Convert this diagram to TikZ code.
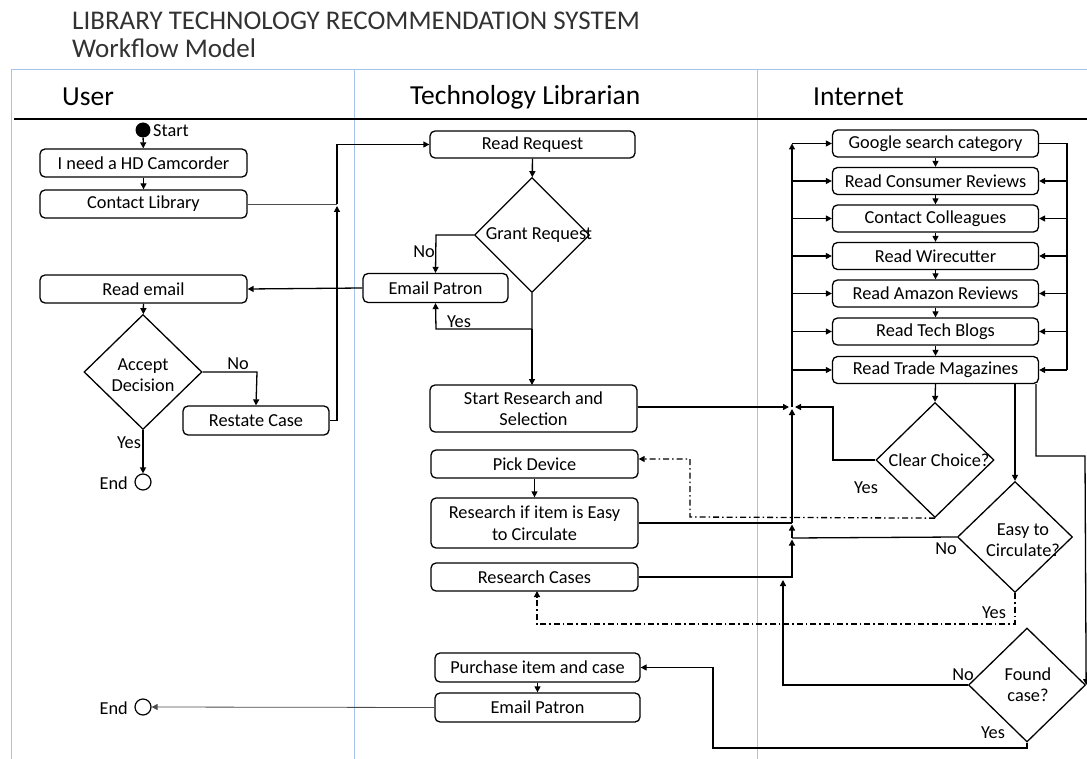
\documentclass[tikz,border=0pt]{standalone}
\usepackage{fontspec}
\setmainfont{Carlito}
\usetikzlibrary{arrows.meta,shapes.geometric}
\definecolor{lanec}{RGB}{165,195,235}
\definecolor{titlec}{RGB}{50,50,50}
\begin{document}
\begin{tikzpicture}[x=1pt,y=-1pt,
  box/.style={draw, rounded corners=5pt, line width=1.3pt, align=center, inner sep=0pt,
     font=\fontsize{18.3}{21.5}\selectfont},
  dia/.style={draw, diamond, line width=1.3pt, inner sep=0pt, aspect=1},
  txt/.style={font=\fontsize{18.3}{21}\selectfont, align=center, inner sep=0pt},
  lbl/.style={font=\fontsize{18.3}{20}\selectfont, inner sep=0pt},
  con/.style={line width=1.3pt},
  arr/.style={con, -{Triangle[length=6pt,width=6pt]}},
  thin/.style={line width=0.8pt, draw=black!70},
  dd/.style={line width=1.3pt, dash pattern=on 6pt off 3pt on 1.5pt off 3pt},
  lane/.style={draw=lanec, line width=1pt}]
\useasboundingbox (0,0) rectangle (1087,759);
% title
\node[anchor=west, inner sep=0pt, text=titlec, font=\fontsize{27}{30}\selectfont] (t1) at (72,21) {LIBRARY TECHNOLOGY RECOMMENDATION SYSTEM};
\node[anchor=west, inner sep=0pt, text=titlec, font=\fontsize{27}{30}\selectfont] (t2) at (72,48) {Workflow Model};
% frame
\draw[lane] (11,759) -- (11,70) -- (1087,70);
\draw[lane] (354,70) -- (354,759);
\draw[lane] (757,70) -- (757,759);
\draw[line width=2pt] (14,119) -- (1087,119);
\node[anchor=west, inner sep=0pt, font=\fontsize{27.5}{30}\selectfont] (hu) at (62,97) {User};
\node[anchor=west, inner sep=0pt, font=\fontsize{27.5}{30}\selectfont] (ht) at (410,97) {Technology Librarian};
\node[anchor=west, inner sep=0pt, font=\fontsize{27.5}{30}\selectfont] (hi) at (813,97) {Internet};

% ---- User lane
\node[circle, fill=black, minimum size=15pt, inner sep=0pt] (start) at (143,130) {};
\node[lbl, anchor=west] (startl) at (153,131) {Start};
\node[box, minimum width=207pt, minimum height=28pt] (need) at (143.5,163) {I need a HD Camcorder};
\node[box, minimum width=207pt, minimum height=28pt] (contact) at (143.5,204) {Contact Library};
\node[box, minimum width=207pt, minimum height=28pt] (reademail) at (143.5,289) {Read email};
\node[dia, minimum width=118pt, minimum height=115pt] (accept) at (143,372) {};
\node[txt] (acceptt) at (143,375) {Accept\\Decision};
\node[box, minimum width=146pt, minimum height=29pt] (restate) at (256,420.5) {Restate Case};
\node[circle, draw, line width=1.2pt, minimum size=16pt, inner sep=0pt] (end1) at (143,482) {};
\node[lbl, anchor=east] (end1l) at (128,483) {End};

% ---- Librarian lane
\node[box, minimum width=205pt, minimum height=27pt] (readreq) at (532.5,144.5) {Read Request};
\node[dia, minimum width=115pt, minimum height=115pt] (grant) at (532,235) {};
\node[txt] (grantt) at (539,235) {Grant Request};
\node[box, minimum width=145pt, minimum height=29pt] (emailp) at (435.5,288) {Email Patron};
\node[box, minimum width=207pt, minimum height=47pt] (startres) at (533.5,408.5) {Start Research and\\Selection};
\node[box, minimum width=207pt, minimum height=28pt] (pick) at (534.5,464) {Pick Device};
\node[box, minimum width=207pt, minimum height=50pt] (easyres) at (534.5,523) {Research if item is Easy\\to Circulate};
\node[box, minimum width=207pt, minimum height=28pt] (rcases) at (534.5,577) {Research Cases};
\node[box, minimum width=205pt, minimum height=29pt] (purchase) at (537.5,667.5) {Purchase item and case};
\node[box, minimum width=205pt, minimum height=29pt] (emailp2) at (537.5,707.5) {Email Patron};
\node[circle, draw, line width=1.2pt, minimum size=16pt, inner sep=0pt] (end2) at (143,707) {};
\node[lbl, anchor=east] (end2l) at (128,708) {End};

% ---- Internet lane
\foreach \n/\y/\t in {g1/143.5/Google search category, g2/181/Read Consumer Reviews, g3/218.5/Contact Colleagues, g4/256/Read Wirecutter, g5/293.5/Read Amazon Reviews, g6/331.5/Read Tech Blogs, g7/370/Read Trade Magazines}
  \node[box, minimum width=206pt, minimum height=27pt] (\n) at (935.5,\y) {\t};
\node[dia, minimum width=118pt, minimum height=115pt] (clear) at (935,460) {};
\node[txt] (cleart) at (939,460) {Clear Choice?};
\node[dia, minimum width=115pt, minimum height=111pt] (easyq) at (1015,537) {};
\node[txt] (easyqt) at (1023,540) {Easy to\\Circulate?};
\node[dia, minimum width=117pt, minimum height=114pt] (found) at (1027,685) {};
\node[txt] (foundt) at (1028,685) {Found\\case?};

% ---- connectors: user lane
\draw[arr] (start) -- (need);
\draw[arr] (need) -- (contact);
\draw[thin] (contact.east) -- (337,204);
\draw[arr] (337,204) |- (readreq.west);
\draw[arr] (restate.east) -- (337,420.5) -- (337,206);
\draw[arr] (reademail) -- (accept);
\draw[arr] (accept.east) -- (257,372) -- (restate.north);
\node[lbl] (nol1) at (238,364) {No};
\draw[arr] (accept.south) -- (end1.north);
\node[lbl] (yesl1) at (129,443) {Yes};

% ---- librarian lane
\draw[arr] (readreq) -- (grant);
\draw[arr] (grant.west) -- (436,235) -- (emailp.north);
\node[lbl] (nol2) at (424,252) {No};
\draw[arr] (grant.south) -- (532,329) -- (436,329) -- (emailp.south);
\node[lbl] (yesl2) at (459,322) {Yes};
\draw[arr] (532,329) -- (532,385);
\draw[arr] (emailp.west) -- (reademail.east);
\draw[arr] (pick) -- (easyres);
\draw[arr] (startres.east |- 0,407) -- (789,407);
\draw[con] (easyres.east |- 0,523) -- (792,523);
\draw[arr] (rcases.east) -- (792,577) -- (792,539.5);
\draw[arr] (purchase) -- (emailp2);
\draw[thin, -{Triangle[length=6pt,width=6pt]}] (emailp2.west) -- (end2.east);

% ---- internet lane
\draw[arr] (792,538) -- (792,524.5);
\draw[arr] (792,523) -- (792,409);
\draw[arr] (792,407) -- (792,143.5);
\draw[arr] (792,143.5) -- (g1.west);
\foreach \n in {g2,g3,g4,g5,g6,g7} {
  \draw[arr] (792,0 |- \n.west) -- (\n.west);
  \draw[arr] (1067,0 |- \n.east) -- (\n.east);
}
\draw[con] (g1.east) -- (1067,143.5) -- (1067,370);
\draw[arr] (g1) -- (g2);
\draw[arr] (g2) -- (g3);
\draw[arr] (g3) -- (g4);
\draw[arr] (g4) -- (g5);
\draw[arr] (g5) -- (g6);
\draw[arr] (g6) -- (g7);
\draw[arr] (g7.south) -- (clear.north);
\draw[arr] (clear.west) -- (833,460) -- (833,407) -- (795,407);
\draw[dd, -{Triangle[length=6pt,width=6pt]}] (clear.south) -- (690,517) -- (690,459) -- (pick.east |- 0,459);
\node[lbl] (yesl3) at (866,488) {Yes};
\draw[arr] (1015,384) -- (easyq.north);
\draw[arr] (1036,384) -- (1036,456) -- (1085,456) -- (found.east);
\draw[con] (easyq.west) -- (792,538);
\node[lbl] (nol3) at (946,549) {No};
\draw[dd, -{Triangle[length=6pt,width=6pt]}] (easyq.south) -- (1015,624) -- (537,624) -- (537,591);
\node[lbl] (yesl4) at (994,613) {Yes};
\draw[arr] (found.west) -- (783,685) -- (783,580);
\node[lbl] (nol4) at (963,675) {No};
\draw[arr] (found.south) -- (1027,748) -- (713,748) -- (713,667.5) -- (purchase.east);
\node[lbl] (yesl5) at (993,733) {Yes};
\end{tikzpicture}
\end{document}
